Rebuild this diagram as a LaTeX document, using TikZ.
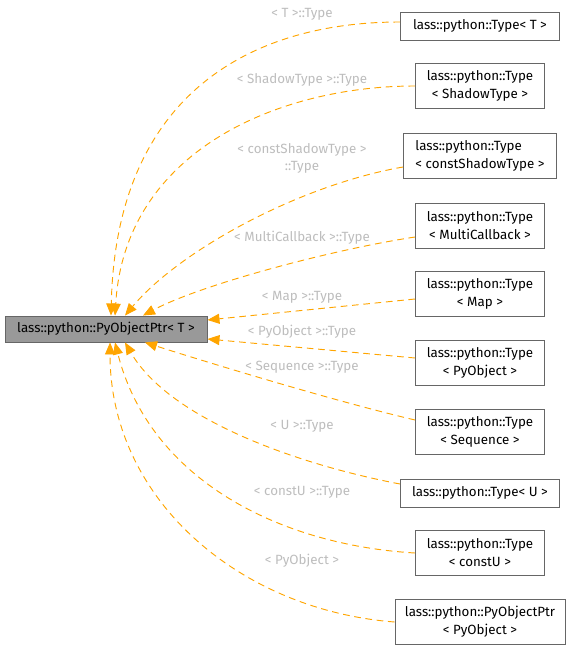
\documentclass[tikz,border=0pt]{standalone}
\usepackage{fontspec}
\setmainfont{Fira Sans}
\usepackage{tikz}
\usetikzlibrary{arrows.meta,positioning}
\definecolor{edgeorange}{HTML}{FFA500}
\definecolor{labelgray}{HTML}{BDBDBD}
\definecolor{boxline}{HTML}{666666}
\definecolor{basefill}{HTML}{999999}
\tikzstyle{classbox} = [rectangle, draw=boxline, line width=0.8pt, fill=white, minimum width=3.87cm, minimum height=1.35cm, align=center, inner sep=2pt, font=\fontsize{11.4}{15.3}\selectfont]
\tikzstyle{single} = [minimum width=4.77cm, minimum height=0.84cm]
\tikzstyle{basebox} = [classbox, fill=basefill, minimum width=6.06cm, minimum height=0.78cm]
\tikzstyle{elabel} = [text=labelgray, align=center, inner sep=1pt, font=\fontsize{11.4}{14.5}\selectfont]
\tikzstyle{inherit} = [-{Triangle[length=3.6mm,width=3mm]}, draw=edgeorange, line width=0.8pt, dash pattern=on 2mm off 1.4mm]

\begin{document}
\begin{tikzpicture}[x=0.03cm, y=-0.03cm]
\useasboundingbox (0,0) rectangle (571,650);
% base class
\node[basebox] (ptr) at (106,329) {lass::python::PyObjectPtr< T >};

% derived classes
\node[classbox, single] (typeT) at (480,26) {lass::python::Type< T >};
\node[classbox] (shadow) at (480,86) {lass::python::Type\\< ShadowType >};
\node[classbox, minimum width=4.59cm, align=left] (cshadow) at (480,156) {lass::python::Type\\< constShadowType >};
\node[classbox] (multi) at (480,226) {lass::python::Type\\< MultiCallback >};
\node[classbox] (map) at (480,294) {lass::python::Type\\< Map >};
\node[classbox] (pyobj) at (480,363) {lass::python::Type\\< PyObject >};
\node[classbox] (seq) at (480,432) {lass::python::Type\\< Sequence >};
\node[classbox, single] (typeU) at (480,493) {lass::python::Type< U >};
\node[classbox] (constu) at (480,553) {lass::python::Type\\< constU >};
\node[classbox, minimum width=5.1cm] (ptrobj) at (480,622) {lass::python::PyObjectPtr\\< PyObject >};

% template argument labels
\node[elabel] (lT) at (302,14) {< T >::Type};
\node[elabel] (lshadow) at (302,80) {< ShadowType >::Type};
\node[elabel] (lcshadow) at (302,158) {< constShadowType >\\::Type};
\node[elabel] (lmulti) at (302,238) {< MultiCallback >::Type};
\node[elabel] (lmap) at (302,297) {< Map >::Type};
\node[elabel] (lpyobj) at (302,332) {< PyObject >::Type};
\node[elabel] (lseq) at (302,367) {< Sequence >::Type};
\node[elabel] (lU) at (302,426) {< U >::Type};
\node[elabel] (lconstu) at (302,492) {< constU >::Type};
\node[elabel] (lptrobj) at (302,561) {< PyObject >};

% inheritance edges
\draw[inherit] ([yshift=0.12cm]typeT.west) .. controls (250,22) and (116,95) .. ([xshift=0.15cm]ptr.north);
\draw[inherit] (shadow.west) .. controls (280,86) and (125,150) .. ([xshift=0.27cm]ptr.north);
\draw[inherit] ([yshift=-0.33cm]cshadow.west) .. controls (300,185) and (180,250) .. ([xshift=0.57cm]ptr.north);
\draw[inherit] ([yshift=-0.33cm]multi.west) .. controls (330,250) and (200,285) .. ([xshift=1.11cm]ptr.north);
\draw[inherit] ([yshift=-0.15cm]map.west) -- ([yshift=0.27cm]ptr.east);
\draw[inherit] ([yshift=0.15cm]pyobj.west) -- ([yshift=-0.3cm]ptr.east);
\draw[inherit] ([yshift=0.36cm]seq.west) .. controls (330,400) and (200,360) .. ([xshift=1.17cm]ptr.south);
\draw[inherit] ([yshift=0.27cm]typeU.west) .. controls (300,465) and (170,420) .. ([xshift=0.57cm]ptr.south);
\draw[inherit] (constu.west) .. controls (280,545) and (150,480) .. ([xshift=0.27cm]ptr.south);
\draw[inherit] (ptrobj.west) .. controls (240,610) and (110,500) .. ([xshift=0.12cm]ptr.south);
\end{tikzpicture}
\end{document}
